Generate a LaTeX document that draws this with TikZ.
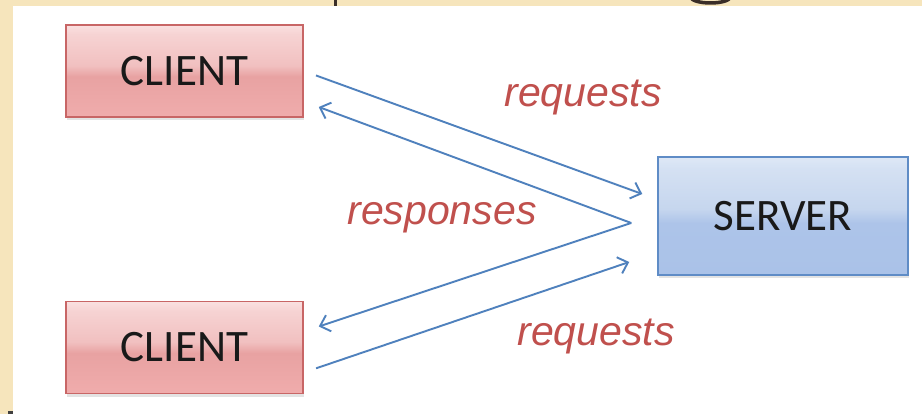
\documentclass[tikz,border=0pt]{standalone}
\usepackage{fontspec}
\usetikzlibrary{arrows.meta,shadows,calc}
\newfontfamily\boxfont{Carlito}
\newfontfamily\labfont{Liberation Sans}

\definecolor{pagebg}{HTML}{F6E5BC}
\definecolor{inkbrown}{HTML}{3A2E28}
\definecolor{arrowblue}{HTML}{4F81BD}
\definecolor{labelred}{HTML}{C0504D}
\definecolor{redframe}{HTML}{C86666}
\definecolor{blueframe}{HTML}{5F8CC6}
\definecolor{rtop}{HTML}{FAE0E0}
\definecolor{rupper}{HTML}{F1C0C0}
\definecolor{rlower}{HTML}{E8A2A2}
\definecolor{rbot}{HTML}{F0ACAC}
\definecolor{btop}{HTML}{DEE8F6}
\definecolor{bupper}{HTML}{C6D6EE}
\definecolor{blower}{HTML}{ADC4E9}
\definecolor{bbot}{HTML}{AAC2E8}

% glossy two-tone fills (pgf maps 25bp..75bp onto the shape)
\pgfdeclareverticalshading{redgloss}{100bp}{color(0bp)=(rbot); color(25bp)=(rbot);
  color(47bp)=(rlower); color(53bp)=(rupper); color(70bp)=(rtop!60!rupper); color(75bp)=(rtop); color(100bp)=(rtop)}
\pgfdeclareverticalshading{bluegloss}{100bp}{color(0bp)=(bbot); color(25bp)=(bbot);
  color(47bp)=(blower); color(53bp)=(bupper); color(70bp)=(btop!60!bupper); color(75bp)=(btop); color(100bp)=(btop)}

\tikzset{
  clientbox/.style={draw=redframe, line width=1.5pt, shading=redgloss,
    minimum width=237pt, minimum height=92pt, inner sep=0pt,
    font=\boxfont\fontsize{45}{50}\selectfont, text=black!90,
    drop shadow={shadow xshift=1pt, shadow yshift=-3pt, opacity=0.22}},
  serverbox/.style={clientbox, draw=blueframe, shading=bluegloss,
    minimum width=250pt, minimum height=118pt},
  flow/.style={draw=arrowblue, line width=1.9pt,
    -{Straight Barb[length=9pt, width=17pt, line width=1.9pt]}},
  flowlabel/.style={text=labelred, inner sep=0pt,
    font=\labfont\itshape\fontsize{41}{46}\selectfont}
}

\begin{document}
\begin{tikzpicture}[x=1pt, y=-1pt]
  % slide background and white content panel
  \fill[pagebg] (0,0) rectangle (922,414);
  \fill[white] (13,6) rectangle (922,414);
  \useasboundingbox (0,0) rectangle (922,414);

  % lower edges of the cut-off slide title
  \fill[inkbrown] (333.5,0) rectangle (336.5,6);
  \draw[inkbrown, line width=3.5pt] (690,-3) .. controls (694,5) and (727,5) .. (731,-3);
  \fill[black!75] (8,411) rectangle (13,414);

  % boxes
  \node[clientbox] (c1) at (184.5,71) {CLIENT};
  \node[clientbox] (c2) at (184.5,347.5) {CLIENT};
  \node[serverbox] (s) at (783,216) {SERVER};

  % arrow end points in the gap beside the boxes
  \coordinate (reqA) at ($(s.west)+(-15,-22)$);
  \coordinate (apex) at ($(s.west)+(-26,7)$);
  \coordinate (reqB) at ($(s.west)+(-28,46)$);

  % requests from the clients
  \draw[flow, shorten <=13pt] (c1.east) -- (reqA);
  \draw[flow, shorten <=13pt] ($(c2.east)+(0,25)$) -- (reqB);

  % responses fanning out from the server side
  \draw[flow] (apex) -- ($(c1.east)+(15,36)$);
  \draw[flow] (apex) -- ($(c2.east)+(15,-21)$);

  % labels
  \node[flowlabel] (l1) at (583,98) {requests};
  \node[flowlabel] (l2) at (442,218) {responses};
  \node[flowlabel] (l3) at (596,337) {requests};
\end{tikzpicture}
\end{document}
